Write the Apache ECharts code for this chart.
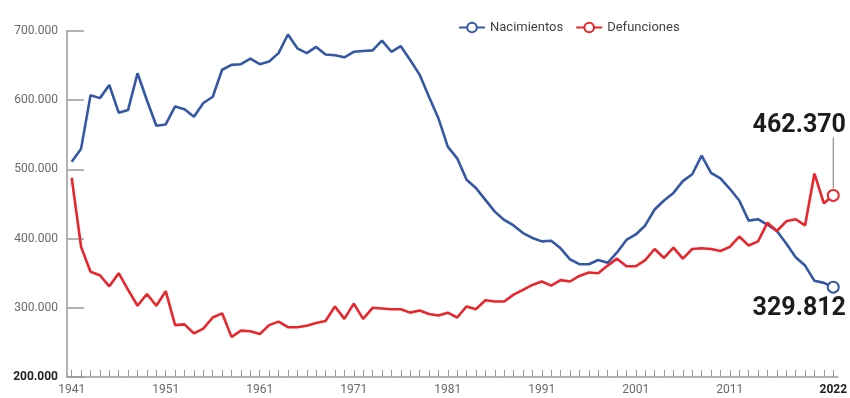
<!DOCTYPE html>
<html lang="es">
<head>
<meta charset="utf-8">
<title>Nacimientos y defunciones en España, 1941-2022</title>
<script src="https://cdn.jsdelivr.net/npm/echarts@6/dist/echarts.min.js"></script>
<style>
  html, body { margin: 0; padding: 0; background: #ffffff; }
  #chart { width: 850px; height: 398px; }
</style>
</head>
<body>
<div id="chart"></div>
<script>
// Años 1941-2022
const years = [];
for (let y = 1941; y <= 2022; y++) years.push(String(y));

// Nacimientos por año
const nacimientos = [
  511000, 530000, 607000, 603000, 622000, 582000, 586000, 639000, 600000, 563000,
  565000, 591000, 587000, 576000, 596000, 605000, 644000, 651000, 652000, 660000,
  652000, 656000, 668000, 695000, 675000, 668000, 677000, 666000, 665000, 662000,
  670000, 671000, 672000, 686000, 670000, 678000, 658000, 637000, 605000, 574000,
  533000, 516000, 485000, 473000, 456000, 439000, 427000, 419000, 408000, 401000,
  396000, 397000, 386000, 370000, 363000, 363000, 369000, 365000, 380000, 398000,
  406000, 419000, 442000, 455000, 466000, 483000, 493000, 520000, 495000, 487000,
  472000, 455000, 426000, 428000, 420000, 411000, 393000, 373000, 361000, 339000,
  336000, 329812
];

// Defunciones por año
const defunciones = [
  488000, 388000, 352000, 347000, 331000, 350000, 326000, 303000, 320000, 303000,
  324000, 275000, 276000, 263000, 270000, 286000, 292000, 258000, 267000, 266000,
  262000, 275000, 280000, 272000, 272000, 274000, 278000, 281000, 302000, 284000,
  306000, 284000, 300000, 299000, 298000, 298000, 293000, 296000, 291000, 289000,
  293000, 286000, 302000, 298000, 311000, 309000, 309000, 319000, 326000, 333000,
  338000, 332000, 340000, 338000, 346000, 351000, 350000, 361000, 371000, 360000,
  360000, 369000, 385000, 372000, 387000, 371000, 385000, 386000, 385000, 382000,
  388000, 403000, 390000, 396000, 423000, 411000, 425000, 428000, 419000, 494000,
  451000, 462370
];

// Años con etiqueta en el eje horizontal
const yearTicks = ['1941', '1951', '1961', '1971', '1981', '1991', '2001', '2011', '2022'];

// Separador de miles con punto
function fmt(n) {
  return String(Math.round(n)).replace(/\B(?=(\d{3})+(?!\d))/g, '.');
}

const BLUE = '#3457a6';
const RED = '#e8262b';
const last = years.length - 1;

function buildData(values, labelCfg) {
  return values.map((v, i) => (i === last ? { value: v, symbolSize: 11, label: labelCfg } : v));
}

const endLabelStyle = {
  show: true,
  fontFamily: 'Roboto, "Liberation Sans", sans-serif',
  fontSize: 25,
  fontWeight: 'bold',
  color: '#1c1c1c',
  formatter: p => fmt(p.value)
};

const chart = echarts.init(document.getElementById('chart'), null, { renderer: 'canvas' });

chart.setOption({
  animation: false,
  backgroundColor: '#ffffff',
  textStyle: { fontFamily: 'Roboto, "Liberation Sans", sans-serif' },
  legend: {
    top: 16,
    left: 453,
    itemWidth: 26,
    itemHeight: 12,
    itemGap: 12,
    textStyle: { fontSize: 13, color: '#444444' },
    data: ['Nacimientos', 'Defunciones']
  },
  grid: { left: 67, top: 31, width: 776, height: 346, containLabel: false },
  xAxis: {
    type: 'category',
    data: years,
    boundaryGap: true,
    axisLine: { lineStyle: { color: '#9a9a9a', width: 1.5 } },
    axisTick: { show: true, inside: true, length: 7, interval: 0, alignWithLabel: true,
                lineStyle: { color: '#9a9a9a', width: 1 } },
    axisLabel: {
      interval: (i, v) => yearTicks.indexOf(v) !== -1,
      margin: 7,
      fontSize: 12,
      color: '#6a6a6a',
      formatter: v => (v === years[last] ? '{b|' + v + '}' : v),
      rich: { b: { fontSize: 12, fontWeight: 'bold', color: '#222222' } }
    },
    splitLine: { show: false }
  },
  yAxis: {
    type: 'value',
    min: 200000,
    max: 700000,
    interval: 100000,
    axisLine: { show: true, lineStyle: { color: '#9a9a9a', width: 1.5 } },
    axisTick: { show: true, inside: true, length: 17, lineStyle: { color: '#9a9a9a', width: 1.5 } },
    axisLabel: {
      margin: 9,
      fontSize: 12,
      color: '#6a6a6a',
      formatter: v => (v === 200000 ? '{b|' + fmt(v) + '}' : fmt(v)),
      rich: { b: { fontSize: 12, fontWeight: 'bold', color: '#222222' } }
    },
    splitLine: { show: false }
  },
  series: [
    {
      name: 'Nacimientos',
      type: 'line',
      data: buildData(nacimientos,
        Object.assign({}, endLabelStyle, { position: 'bottom', distance: 0, offset: [-34, 3] })),
      symbol: 'emptyCircle',
      symbolSize: 0,
      showSymbol: true,
      showAllSymbol: true,
      color: BLUE,
      lineStyle: { color: BLUE, width: 2.6 },
      itemStyle: { color: BLUE, borderWidth: 2 },
      z: 3
    },
    {
      name: 'Defunciones',
      type: 'line',
      data: buildData(defunciones,
        Object.assign({}, endLabelStyle, { position: 'top', distance: 51, offset: [-34, 0] })),
      symbol: 'emptyCircle',
      symbolSize: 0,
      showSymbol: true,
      showAllSymbol: true,
      color: RED,
      lineStyle: { color: RED, width: 2.6 },
      itemStyle: { color: RED, borderWidth: 2 },
      z: 4
    }
  ]
});

// Línea guía vertical entre la etiqueta y el último punto de defunciones
const endPt = chart.convertToPixel({ seriesIndex: 1 }, [last, defunciones[last]]);
chart.setOption({
  graphic: [{
    type: 'line',
    shape: { x1: endPt[0], y1: endPt[1] - 7, x2: endPt[0], y2: endPt[1] - 58 },
    style: { stroke: '#7a7a7a', lineWidth: 1 },
    z: 10
  }]
});
</script>
</body>
</html>
